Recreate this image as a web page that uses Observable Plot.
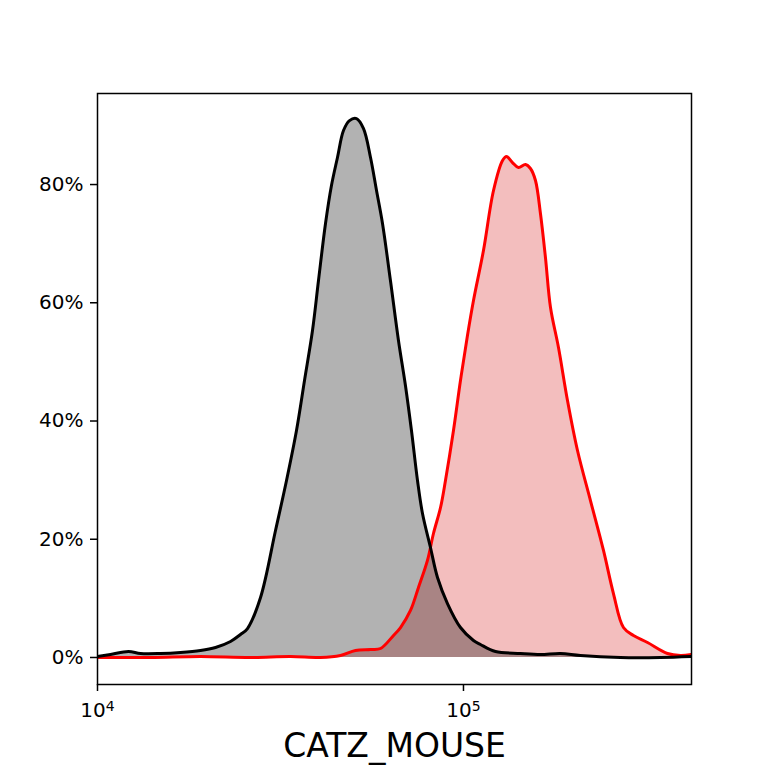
<!DOCTYPE html>
<html>
<head>
<meta charset="utf-8">
<script src="https://cdn.jsdelivr.net/npm/d3@7"></script>
<script src="https://cdn.jsdelivr.net/npm/@observablehq/plot@0.6"></script>
<style>
  html, body { margin: 0; padding: 0; background: white; }
</style>
</head>
<body>
<div id="chart"></div>
<script>
// Black (control) histogram: intensity and percent of max
const blackX = [10000,10852,12153,13107,14862,16856,19114,21010,23091,24590,25695,27891,30648,32845,34972,36780,38676,40163,41976,43580,45260,47003,48810,51017,53320,55718,57860,60080,63160,66430,69410,72090,74880,77270,81250,84920,90420,98130,106500,111300,122300,143100,162300,184100,208700,268500,345400,419800];
const blackY = [0.17,0.51,1.01,0.68,0.68,0.85,1.18,1.69,2.71,3.89,4.90,10.15,21.48,29.94,38.39,46.85,55.31,63.76,73.40,79.83,84.57,89.13,90.82,91.16,89.47,84.57,78.99,73.40,63.76,53.62,46.00,38.39,29.94,24.35,18.60,13.53,9.13,5.07,2.88,2.20,1.01,0.68,0.51,0.68,0.34,0,0,0.17];

// Red (stained) histogram
const redX = [10000,13955,19114,26182,33687,40677,46130,50690,55718,59330,64390,67290,71650,75340,79720,82790,86560,89290,93900,98130,102540,106500,113400,120800,127860,131100,136100,141300,147700,152400,157300,162300,167500,172900,181800,192400,204900,222300,241300,256900,273600,291400,318300,360900,391700,419800];
const redY = [0,0,0.17,0,0.17,0,0.34,1.18,1.35,1.52,3.72,5.07,7.95,11.84,16.41,20.97,25.37,29.94,38.39,46.85,54.46,60.38,68.84,78.99,84.06,84.73,83.72,82.88,83.38,82.71,80.68,75.10,67.65,59.20,52.43,43.47,35.01,26.55,18.10,10.82,5.07,3.72,2.54,0.68,0.34,0.51];

const xTicks = [1e4, 1e5];
const xTickLabels = ["10^4", "10^5"];
const yTicks = [0, 20, 40, 60, 80];
const xLabel = "CATZ_MOUSE";

const black = blackX.map((x, i) => ({x, y: blackY[i]}));
const red = redX.map((x, i) => ({x, y: redY[i]}));

const chart = Plot.plot({
  width: 768,
  height: 768,
  marginLeft: 97,
  marginRight: 77,
  marginTop: 93,
  marginBottom: 84,
  style: {fontFamily: "DejaVu Sans", fontSize: "20px", background: "white", color: "black"},
  x: {type: "log", domain: [10000, 419800]},
  y: {domain: [-4.57, 95.4]},
  marks: [
    Plot.areaY(red, {x: "x", y: "y", fill: "#d62728", fillOpacity: 0.3, curve: "catmull-rom", clip: true}),
    Plot.areaY(black, {x: "x", y: "y", fill: "black", fillOpacity: 0.3, curve: "catmull-rom", clip: true}),
    Plot.lineY(red, {x: "x", y: "y", stroke: "red", strokeWidth: 3, curve: "catmull-rom", clip: true}),
    Plot.lineY(black, {x: "x", y: "y", stroke: "black", strokeWidth: 3, curve: "catmull-rom", clip: true}),
    Plot.frame({stroke: "black", strokeWidth: 1.5}),
    Plot.axisY({ticks: yTicks, tickFormat: d => d + "%", tickSize: 7, tickPadding: 7, fontSize: 20, label: null, strokeWidth: 1.5}),
    Plot.axisX({ticks: xTicks, tickFormat: d => xTickLabels[xTicks.indexOf(d)], tickSize: 7, tickPadding: 11, fontSize: 20, label: null, strokeWidth: 1.5}),
    Plot.text([xLabel], {text: d => d, frameAnchor: "bottom", dy: 62, fontSize: 33, lineAnchor: "middle", fill: "black"})
  ]
});
// render x tick labels as base with superscript exponent
d3.select(chart).selectAll("text").each(function() {
  const t = d3.select(this);
  const s = t.text();
  if (s.includes("^")) {
    const [base, exp] = s.split("^");
    t.text(base).attr("font-size", 20);
    t.append("tspan").attr("dy", "-0.4em").attr("font-size", 14).text(exp);
  } else if (s.endsWith("%")) {
    t.attr("font-size", 20);
  }
});
document.getElementById("chart").appendChild(chart);
</script>
</body>
</html>
